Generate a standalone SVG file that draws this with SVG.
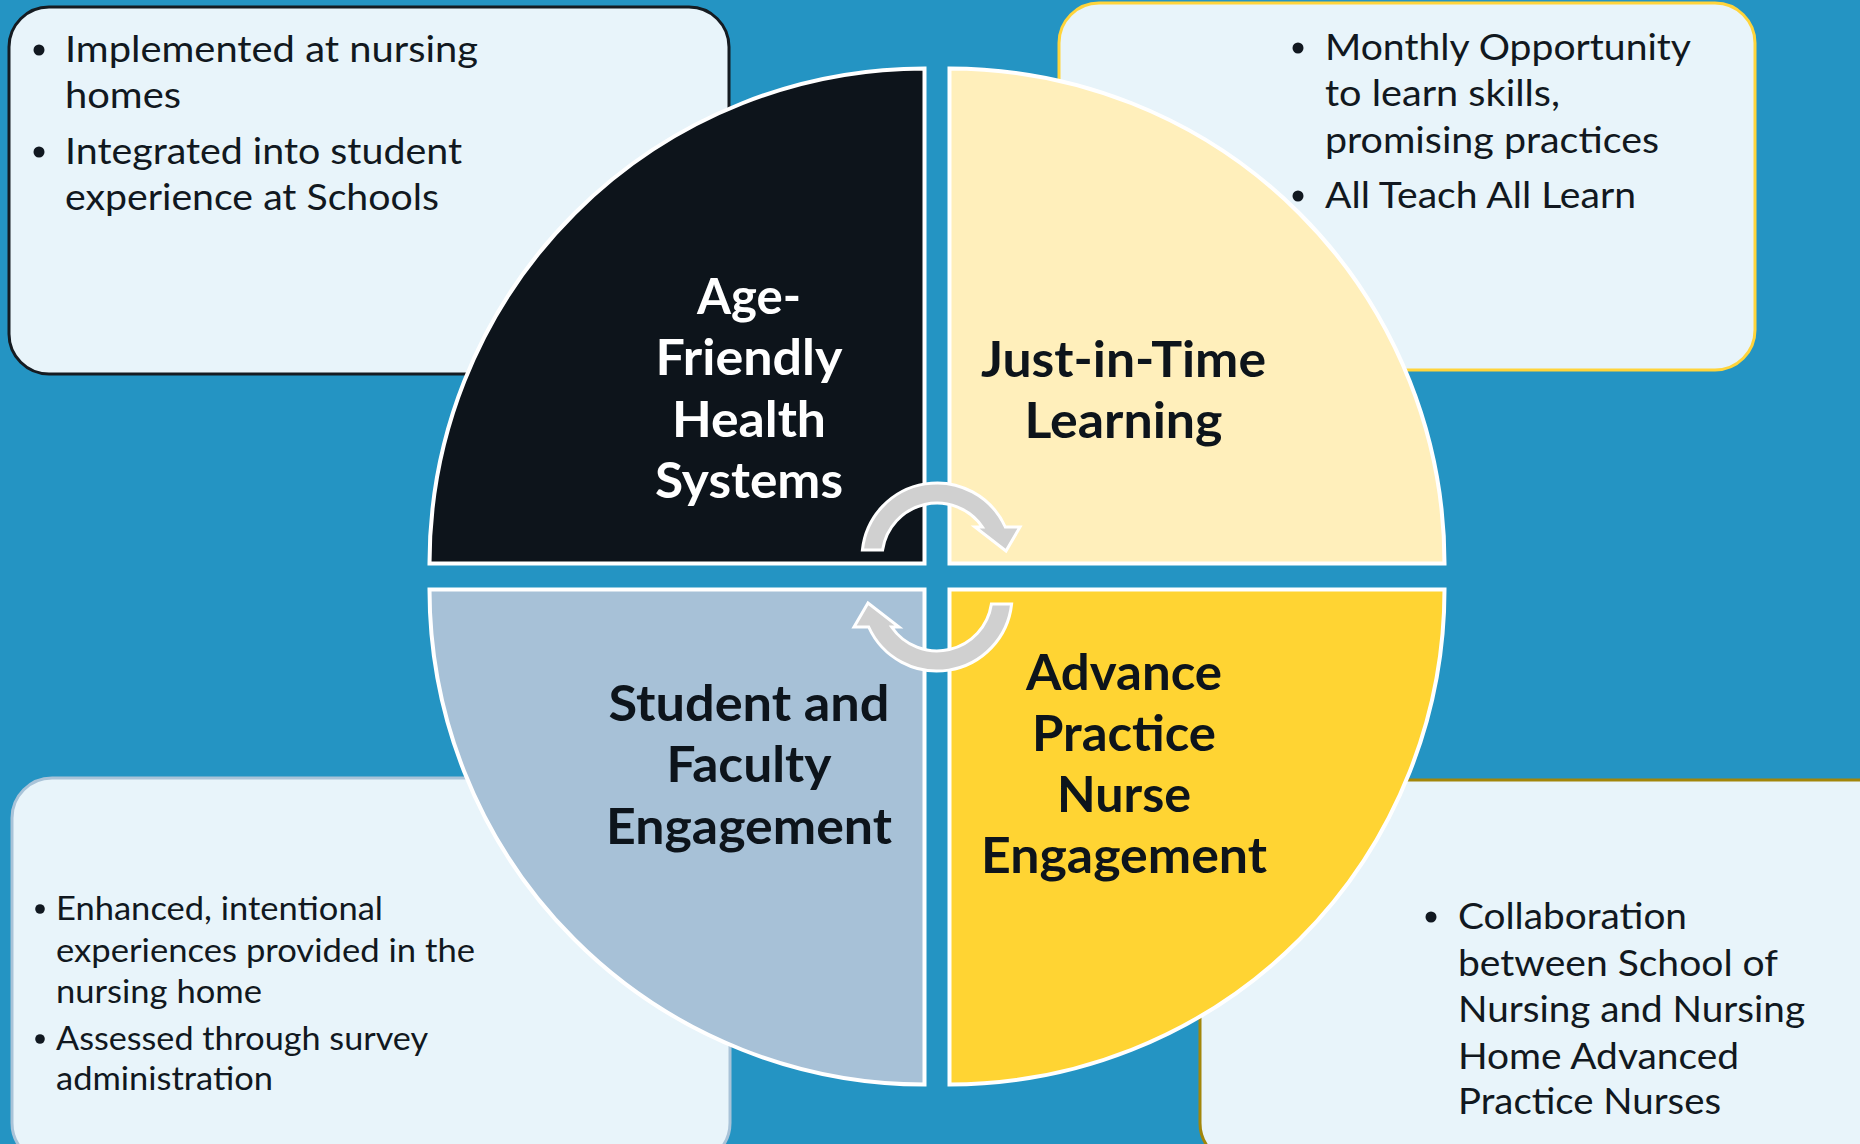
<svg xmlns="http://www.w3.org/2000/svg" width="1860" height="1144" viewBox="0 0 1860 1144">
  <style>
    .box { fill: #E8F4FA; stroke-width: 3; }
    .body { font-family: Lato, "Liberation Sans", sans-serif; fill: #111820; }
    .b1 { font-size: 37px; }
    .b2 { font-size: 32.5px; }
    .head { font-family: Lato, "Liberation Sans", sans-serif; font-weight: 700; font-size: 49px; text-anchor: middle; }
    .quad { stroke: #FFFFFF; stroke-width: 4; stroke-linejoin: miter; }
    .dot { fill: #111820; }
    .arrow { fill: #D0D0D0; stroke: #FFFFFF; stroke-width: 3; stroke-linejoin: miter; }
  </style>
  <rect x="0" y="0" width="1860" height="1144" fill="#2494C3"/>

  <g id="box-age-friendly">
    <rect class="box" x="9" y="7" width="720" height="367" rx="40" ry="40" stroke="#151B21"/>
    <circle class="dot" cx="39" cy="50" r="5.5"/>
    <circle class="dot" cx="39" cy="152" r="5.5"/>
    <text class="body b1" x="65" y="62" textLength="413" lengthAdjust="spacingAndGlyphs">Implemented at nursing</text>
    <text class="body b1" x="65" y="108" textLength="116" lengthAdjust="spacingAndGlyphs">homes</text>
    <text class="body b1" x="65" y="164" textLength="397" lengthAdjust="spacingAndGlyphs">Integrated into student</text>
    <text class="body b1" x="65" y="210" textLength="374" lengthAdjust="spacingAndGlyphs">experience at Schools</text>
  </g>

  <g id="box-just-in-time">
    <rect class="box" x="1059" y="3" width="696" height="367" rx="40" ry="40" stroke="#FFD43B"/>
    <circle class="dot" cx="1298" cy="48" r="5.5"/>
    <circle class="dot" cx="1298" cy="196" r="5.5"/>
    <text class="body b1" x="1325" y="60" textLength="366" lengthAdjust="spacingAndGlyphs">Monthly Opportunity</text>
    <text class="body b1" x="1325" y="106" textLength="235" lengthAdjust="spacingAndGlyphs">to learn skills,</text>
    <text class="body b1" x="1325" y="153" textLength="334" lengthAdjust="spacingAndGlyphs">promising practices</text>
    <text class="body b1" x="1325" y="208" textLength="311" lengthAdjust="spacingAndGlyphs">All Teach All Learn</text>
  </g>

  <g id="box-student-faculty">
    <rect class="box" x="12" y="778" width="718" height="385" rx="40" ry="40" stroke="#A9C3D8"/>
    <circle class="dot" cx="40" cy="909" r="4.8"/>
    <circle class="dot" cx="40" cy="1039" r="4.8"/>
    <text class="body b2" x="56" y="920" textLength="327" lengthAdjust="spacingAndGlyphs">Enhanced, intentional</text>
    <text class="body b2" x="56" y="962" textLength="419" lengthAdjust="spacingAndGlyphs">experiences provided in the</text>
    <text class="body b2" x="56" y="1003" textLength="206" lengthAdjust="spacingAndGlyphs">nursing home</text>
    <text class="body b2" x="56" y="1050" textLength="372" lengthAdjust="spacingAndGlyphs">Assessed through survey</text>
    <text class="body b2" x="56" y="1090" textLength="217" lengthAdjust="spacingAndGlyphs">administration</text>
  </g>

  <g id="box-advance-practice">
    <rect class="box" x="1200" y="780" width="700" height="383" rx="40" ry="40" stroke="#A2860A"/>
    <circle class="dot" cx="1431" cy="917" r="5.5"/>
    <text class="body b1" x="1458" y="929" textLength="229" lengthAdjust="spacingAndGlyphs">Collaboration</text>
    <text class="body b1" x="1458" y="976" textLength="320" lengthAdjust="spacingAndGlyphs">between School of</text>
    <text class="body b1" x="1458" y="1022" textLength="347" lengthAdjust="spacingAndGlyphs">Nursing and Nursing</text>
    <text class="body b1" x="1458" y="1069" textLength="281" lengthAdjust="spacingAndGlyphs">Home Advanced</text>
    <text class="body b1" x="1458" y="1114" textLength="263" lengthAdjust="spacingAndGlyphs">Practice Nurses</text>
  </g>

  <g id="quad-age-friendly">
    <path class="quad" d="M 924.5 563.5 L 429.5 563.5 A 495 495 0 0 1 924.5 68.5 Z" fill="#0D141B"/>
    <text class="head" x="749" y="314" fill="#FFFFFF" textLength="104" lengthAdjust="spacingAndGlyphs">Age-</text>
    <text class="head" x="749" y="375" fill="#FFFFFF" textLength="187" lengthAdjust="spacingAndGlyphs">Friendly</text>
    <text class="head" x="749" y="437" fill="#FFFFFF" textLength="154" lengthAdjust="spacingAndGlyphs">Health</text>
    <text class="head" x="749" y="498" fill="#FFFFFF" textLength="188" lengthAdjust="spacingAndGlyphs">Systems</text>
  </g>

  <g id="quad-just-in-time">
    <path class="quad" d="M 949.5 563.5 L 949.5 68.5 A 495 495 0 0 1 1444.5 563.5 Z" fill="#FFEFBB"/>
    <text class="head" x="1123.5" y="377" fill="#0D141B" textLength="285" lengthAdjust="spacingAndGlyphs">Just-in-Time</text>
    <text class="head" x="1123.5" y="438" fill="#0D141B" textLength="198" lengthAdjust="spacingAndGlyphs">Learning</text>
  </g>

  <g id="quad-student-faculty">
    <path class="quad" d="M 924.5 589.5 L 924.5 1084.5 A 495 495 0 0 1 429.5 589.5 Z" fill="#A7C1D7"/>
    <text class="head" x="749" y="721" fill="#0D141B" textLength="281" lengthAdjust="spacingAndGlyphs">Student and</text>
    <text class="head" x="749" y="782" fill="#0D141B" textLength="165" lengthAdjust="spacingAndGlyphs">Faculty</text>
    <text class="head" x="749" y="844" fill="#0D141B" textLength="286" lengthAdjust="spacingAndGlyphs">Engagement</text>
  </g>

  <g id="quad-advance-practice">
    <path class="quad" d="M 949.5 589.5 L 1444.5 589.5 A 495 495 0 0 1 949.5 1084.5 Z" fill="#FFD433"/>
    <text class="head" x="1124" y="690" fill="#0D141B" textLength="196" lengthAdjust="spacingAndGlyphs">Advance</text>
    <text class="head" x="1124" y="751" fill="#0D141B" textLength="184" lengthAdjust="spacingAndGlyphs">Practice</text>
    <text class="head" x="1124" y="812" fill="#0D141B" textLength="134" lengthAdjust="spacingAndGlyphs">Nurse</text>
    <text class="head" x="1124" y="873" fill="#0D141B" textLength="286" lengthAdjust="spacingAndGlyphs">Engagement</text>
  </g>

  <g id="connectors">
    <path id="cycle-arrow-top" class="arrow" d="M 862.4 550 A 75 75 0 0 1 1005.3 527 L 1020 527 L 1006 551 L 975 527 L 982.4 527 A 55 55 0 0 0 882.6 550 Z"/>
    <path id="cycle-arrow-bottom" class="arrow" transform="rotate(180 937 577)" d="M 862.4 550 A 75 75 0 0 1 1005.3 527 L 1020 527 L 1006 551 L 975 527 L 982.4 527 A 55 55 0 0 0 882.6 550 Z"/>
  </g>
</svg>
